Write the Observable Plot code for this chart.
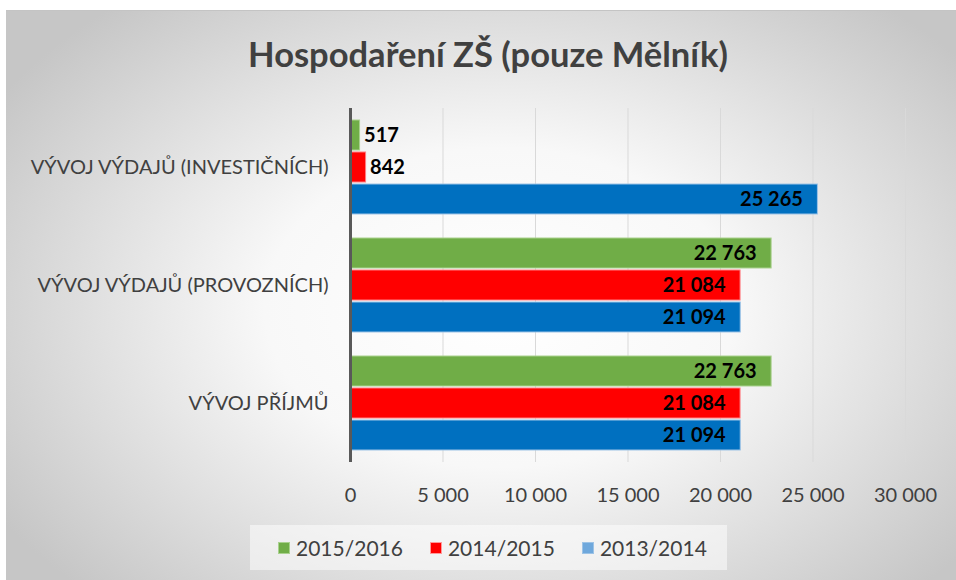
<!DOCTYPE html>
<html><head><meta charset="utf-8">
<script src="https://cdn.jsdelivr.net/npm/d3@7"></script>
<script src="https://cdn.jsdelivr.net/npm/@observablehq/plot@0.6"></script>
<style>
body{margin:0;width:956px;height:580px;overflow:hidden;background:#fff;font-family:Lato,"Open Sans",sans-serif;position:relative}
#bg{position:absolute;left:6px;top:10px;width:950px;height:570px;border-top:1px solid #c4c4c4;background:radial-gradient(ellipse 62% 70% at 52% 52%, #ffffff 0%, #f8f8f8 40%, #c6c6c6 100%)}
#title{position:absolute;left:0;top:31px;width:976px;text-align:center;font-weight:700;font-size:34.5px;color:#404040;line-height:46px}
#chart{position:absolute;left:0;top:100px}
#legend{position:absolute;left:250px;top:525px;width:449px;height:45px;padding-left:28px;background:rgba(255,255,255,0.5);display:flex;align-items:center;font-size:21px;color:#404040}
.item{display:flex;align-items:center;margin-right:27px}
.sw{width:10px;height:10px;border:1px solid;margin-right:6px}
</style></head>
<body>
<div id="bg"></div>
<div id="title">Hospodaření ZŠ (pouze Mělník)</div>
<div id="chart"></div>
<div id="legend"></div>
<script>
const categories = ["VÝVOJ VÝDAJŮ (INVESTIČNÍCH)", "VÝVOJ VÝDAJŮ (PROVOZNÍCH)", "VÝVOJ PŘÍJMŮ"];
const series = ["2015/2016", "2014/2015", "2013/2014"];
const values2015_2016 = [517, 22763, 22763];
const values2014_2015 = [842, 21084, 21084];
const values2013_2014 = [25265, 21094, 21094];
const xTicks = [0, 5000, 10000, 15000, 20000, 25000, 30000];
const fills = ["#70AD47", "#FF0000", "#0070C0"];
const strokes = ["#A9D18E", "#FF7C80", "#9DC3E6"];
const legendFills = ["#70AD47", "#FF0000", "#6FA8DC"];
const legendStrokes = ["#A9D18E", "#FF9999", "#9DC3E6"];

const seriesValues = [values2015_2016, values2014_2015, values2013_2014];
const rows = [];
categories.forEach((c, i) => series.forEach((s, j) => rows.push({cat: c, series: s, value: seriesValues[j][i]})));

const loc = d3.formatLocale({decimal: ",", thousands: "\u00a0", grouping: [3], currency: ["", ""]});
const fmt = loc.format(",d");

const plot = Plot.plot({
  width: 956,
  height: 420,
  marginTop: 8,
  marginBottom: 58,
  marginLeft: 350,
  marginRight: 51,
  style: {fontFamily: "Lato, 'Open Sans', sans-serif", fontSize: "20px", color: "#404040", background: "transparent", overflow: "visible"},
  facet: {data: rows, y: "cat"},
  fy: {domain: categories, padding: 0, axis: "left", label: null, tickSize: 0, tickPadding: 22},
  y: {domain: series, axis: null, paddingInner: 0, paddingOuter: 0.325},
  x: {domain: [0, 30000], ticks: xTicks, tickFormat: fmt, tickSize: 0, tickPadding: 25, label: null},
  color: {domain: series, range: fills},
  marks: [
    Plot.ruleX(xTicks.slice(1), {stroke: "#d9d9d9", strokeWidth: 1}),
    Plot.barX(rows, {x: "value", y: "series", fill: "series", stroke: d => strokes[series.indexOf(d.series)], strokeWidth: 1, insetTop: 1, insetBottom: 1}),
    Plot.ruleX([0], {stroke: "#595959", strokeWidth: 3}),
    Plot.text(rows, {filter: d => d.value >= 5000, x: "value", y: "series", text: d => fmt(d.value), textAnchor: "end", dx: -15, fill: "#000", fontWeight: "bold", fontSize: 20}),
    Plot.text(rows, {filter: d => d.value < 5000, x: "value", y: "series", text: d => fmt(d.value), textAnchor: "start", dx: 4, fill: "#000", fontWeight: "bold", fontSize: 20})
  ]
});
document.getElementById("chart").appendChild(plot);

const leg = document.getElementById("legend");
series.forEach((s, i) => {
  const it = document.createElement("div");
  it.className = "item";
  const sw = document.createElement("span");
  sw.className = "sw";
  sw.style.background = legendFills[i];
  sw.style.borderColor = legendStrokes[i];
  const t = document.createElement("span");
  t.textContent = s;
  it.appendChild(sw); it.appendChild(t);
  leg.appendChild(it);
});
</script>
</body></html>
